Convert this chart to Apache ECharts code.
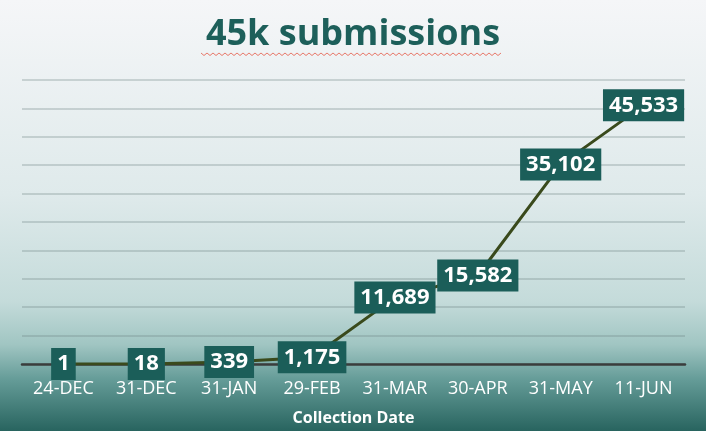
<!DOCTYPE html>
<html>
<head>
<meta charset="utf-8">
<script src="https://cdn.jsdelivr.net/npm/echarts@6/dist/echarts.min.js"></script>
<style>
html,body{margin:0;padding:0;}
#c{width:706px;height:431px;}
</style>
</head>
<body>
<div id="c"></div>
<script>
var categories = ['24-DEC','31-DEC','31-JAN','29-FEB','31-MAR','30-APR','31-MAY','11-JUN'];
var submissions = [1, 18, 339, 1175, 11689, 15582, 35102, 45533];
var titleText = '45k submissions';
var axisName = 'Collection Date';

var chart = echarts.init(document.getElementById('c'));

var squiggle = [];
for (var x = 201, i = 0; x <= 502; x += 3, i++) {
  squiggle.push([x, (i % 2 === 0) ? 53 : 55.5]);
}

chart.setOption({
  backgroundColor: {
    type: 'linear', x: 0, y: 0, x2: 0, y2: 1,
    colorStops: [
      {offset: 0, color: '#f5f6f8'},
      {offset: 0.45, color: '#dfeaeb'},
      {offset: 0.7, color: '#c4dbda'},
      {offset: 0.8, color: '#a0c5c2'},
      {offset: 0.88, color: '#659c98'},
      {offset: 1, color: '#28645f'}
    ]
  },
  title: {
    text: titleText,
    left: 'center',
    top: 12,
    textStyle: {
      fontFamily: 'Open Sans',
      fontWeight: 'bold',
      fontSize: 36,
      color: '#1d5f5a'
    }
  },
  graphic: [{
    type: 'polyline',
    shape: {points: squiggle},
    style: {stroke: '#e8786a', lineWidth: 1, fill: null},
    silent: true
  }],
  grid: {left: 22, right: 21, top: 80, bottom: 66},
  xAxis: {
    type: 'category',
    data: categories,
    boundaryGap: true,
    name: axisName,
    nameLocation: 'middle',
    nameGap: 46,
    nameTextStyle: {
      color: '#ffffff',
      fontFamily: 'Open Sans',
      fontWeight: 'bold',
      fontSize: 16
    },
    axisLine: {lineStyle: {color: '#3a3d3c', width: 2.5}},
    axisTick: {show: false},
    axisLabel: {
      interval: 0,
      color: '#ffffff',
      fontFamily: 'Open Sans',
      fontSize: 18,
      margin: 16
    }
  },
  yAxis: {
    type: 'value',
    min: 0,
    max: 50000,
    interval: 5000,
    axisLabel: {show: false},
    axisLine: {show: false},
    axisTick: {show: false},
    splitLine: {lineStyle: {color: 'rgba(105,125,128,0.38)', width: 1.5}}
  },
  series: [{
    type: 'line',
    data: submissions,
    symbol: 'circle',
    symbolSize: 2,
    itemStyle: {color: '#3a4a1c'},
    lineStyle: {color: '#3a4a1c', width: 3},
    label: {
      show: true,
      position: 'inside',
      formatter: function (p) { return p.value.toLocaleString('en-US'); },
      color: '#ffffff',
      fontFamily: 'Open Sans',
      fontWeight: 'bold',
      fontSize: 22,
      lineHeight: 23,
      backgroundColor: '#1b5e59',
      padding: [5, 6, 4, 6]
    },
    animation: false
  }],
  animation: false
});
</script>
</body>
</html>
